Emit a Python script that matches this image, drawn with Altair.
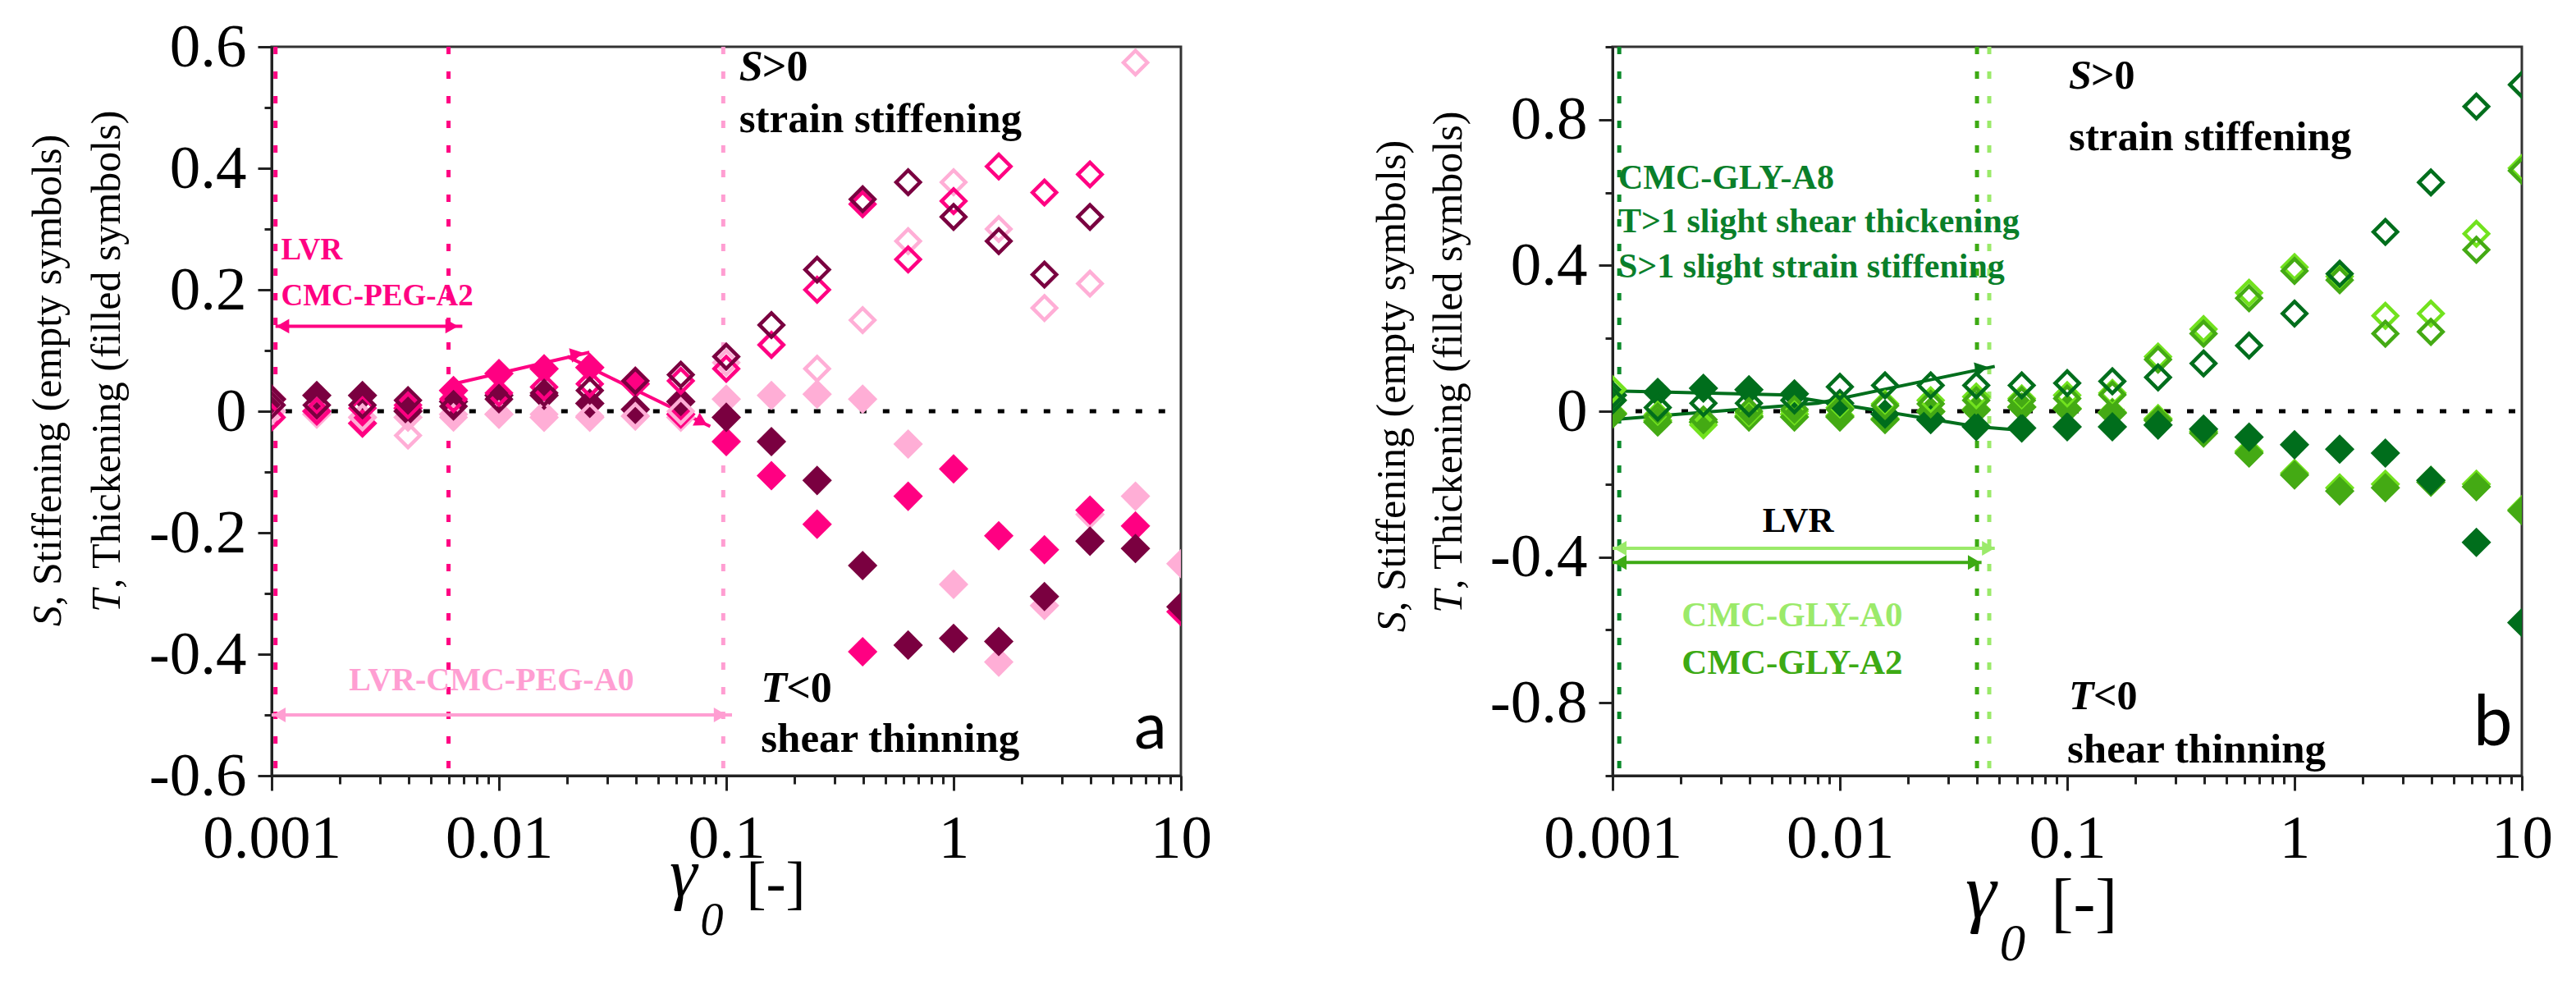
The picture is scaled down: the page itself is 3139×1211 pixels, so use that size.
import altair as alt
import pandas as pd

SERIF = "Liberation Serif"
SANS = "Lato"

# strain amplitude grid, same in both panels
gamma0 = [0.001, 0.00158, 0.00251, 0.00398, 0.00631, 0.01, 0.0158, 0.0251, 0.0398,
          0.0631, 0.1, 0.158, 0.251, 0.398, 0.631, 1.0, 1.58, 2.51, 3.98, 6.31, 10.0]

# panel a: CMC-PEG, S = stiffening (empty), T = thickening (filled)
peg_a0_S = [0.01, 0.0, -0.01, -0.04, -0.01, -0.005, -0.005, -0.008, -0.008, 0.0, 0.08,
            0.11, 0.07, 0.15, 0.28, 0.377, 0.30, 0.17, 0.21, 0.574, None]
peg_a2_S = [-0.01, 0.0, 0.005, 0.01, 0.02, 0.03, 0.04, 0.045, 0.05, 0.05, 0.07,
            0.109, 0.2, 0.341, 0.25, 0.346, 0.403, 0.36, 0.39, None, None]
peg_a8_S = [0.01, 0.01, 0.01, 0.018, 0.008, 0.02, 0.03, 0.034, 0.05, 0.06, 0.09,
            0.142, 0.233, 0.349, 0.377, 0.32, 0.28, 0.225, 0.32, None, None]
peg_a0_T = [0.0, -0.005, -0.01, -0.01, -0.005, -0.005, -0.01, -0.01, -0.008, -0.01, 0.02,
            0.026, 0.028, 0.02, -0.054, -0.285, -0.413, -0.32, -0.17, -0.14, -0.251]
peg_a2_T = [0.02, 0.0, -0.02, 0.005, 0.034, 0.062, 0.07, 0.072, 0.045, -0.005, -0.05,
            -0.106, -0.186, -0.396, -0.14, -0.095, -0.205, -0.228, -0.163, -0.189, -0.33]
peg_a8_T = [0.02, 0.026, 0.026, 0.0, 0.016, 0.026, 0.026, 0.013, 0.003, 0.016, -0.01,
            -0.05, -0.114, -0.254, -0.385, -0.374, -0.379, -0.305, -0.214, -0.226, -0.322]

# panel b: CMC-GLY
gly_a0_S = [0.06, -0.01, -0.038, -0.005, 0.0, 0.01, 0.02, 0.03, 0.04, 0.035, 0.044,
            0.05, 0.15, 0.225, 0.325, 0.395, 0.37, 0.262, 0.268, 0.487, 0.667]
gly_a2_S = [0.03, -0.015, -0.023, 0.0, 0.005, 0.005, 0.015, 0.02, 0.03, 0.03, 0.035,
            0.045, 0.142, 0.213, 0.31, 0.385, 0.36, 0.213, 0.218, 0.443, 0.66]
gly_a8_S = [0.03, 0.01, 0.022, 0.022, 0.03, 0.067, 0.071, 0.071, 0.071, 0.071, 0.077,
            0.082, 0.093, 0.131, 0.18, 0.268, 0.377, 0.492, 0.628, 0.836, 0.896]
gly_a0_T = [-0.005, -0.025, -0.03, -0.012, -0.008, -0.012, -0.02, 0.0, 0.005, 0.012, 0.008,
            -0.003, -0.02, -0.055, -0.11, -0.17, -0.21, -0.2, -0.19, -0.2, -0.27]
gly_a2_T = [-0.008, -0.03, -0.03, -0.016, -0.016, -0.016, -0.023, -0.001, 0.003, 0.011, 0.006,
            -0.005, -0.025, -0.06, -0.115, -0.175, -0.219, -0.21, -0.195, -0.207, -0.273]
gly_a8_T = [0.044, 0.052, 0.063, 0.059, 0.048, 0.022, -0.008, -0.023, -0.042, -0.046, -0.043,
            -0.043, -0.038, -0.049, -0.071, -0.092, -0.104, -0.115, -0.19, -0.36, -0.58]

PINKS = ["#FFAED6", "#FF0082", "#7A0040"]
GREENS = ["#72E21E", "#44AA14", "#006E1C"]

# tick positions
x_ticks = [m * 10.0 ** e for e in range(-3, 1) for m in range(1, 10)] + [10.0]
ya_ticks = [-0.6, -0.5, -0.4, -0.3, -0.2, -0.1, 0.0, 0.1, 0.2, 0.3, 0.4, 0.5, 0.6]
yb_ticks = [-1.0, -0.8, -0.6, -0.4, -0.2, 0.0, 0.2, 0.4, 0.6, 0.8, 1.0]

MAJ_X = "abs(log(datum.value)/LN10 - round(log(datum.value)/LN10)) < 0.01"
MAJ_YA = "abs(round(datum.value*10)) % 2 == 0"
MAJ_YB = "abs(round(datum.value*5)) % 2 == 0"
SIGNED = "(datum.value < 0 ? '-' + format(-datum.value, '~g') : format(datum.value, '~g'))"

W, H = 1108, 888


def x_axis():
    return alt.Axis(values=x_ticks, labelExpr=f"{MAJ_X} ? format(datum.value, '~g') : ''",
                    tickSize={"condition": {"test": MAJ_X, "value": 18}, "value": 10},
                    labelPadding=22, labelFlush=False, title=None)


def y_axis(ticks, test):
    return alt.Axis(values=ticks, labelExpr=f"{test} ? {SIGNED} : ''",
                    tickSize={"condition": {"test": test, "value": 17}, "value": 9},
                    labelPadding=14, labelFlush=False, title=None)


def points(series, colors, filled, X, Y):
    rows = []
    for col, vals in zip(colors, series):
        for x, v in zip(gamma0, vals):
            if v is not None:
                rows.append({"x": x, "v": v, "c": col})
    if filled:
        m = alt.Chart(pd.DataFrame(rows)).mark_point(
            shape="diamond", filled=True, size=1300, opacity=1, clip=True)
    else:
        m = alt.Chart(pd.DataFrame(rows)).mark_point(
            shape="diamond", filled=False, size=850, strokeWidth=4.5, opacity=1, clip=True)
    return m.encode(x=X, y=Y, color=alt.Color("c:N", scale=None))


def vlines(xs, colors, X):
    d = pd.DataFrame({"x": xs, "c": colors})
    return alt.Chart(d).mark_rule(strokeDash=[9, 21], strokeWidth=5).encode(
        x=X, color=alt.Color("c:N", scale=None))


def zero_line(x0, x1, X, Y):
    d = pd.DataFrame({"x": [x0], "x2": [x1], "v": [0.0]})
    return alt.Chart(d).mark_rule(strokeDash=[8, 20], strokeWidth=5, color="black").encode(
        x=X, x2="x2:Q", y=Y)


def polyline(xs, ys, color, X, Y):
    d = pd.DataFrame({"x": xs, "v": ys})
    return alt.Chart(d).mark_line(strokeWidth=4, color=color).encode(x=X, y=Y)


def heads(xs, ys, angles, color, X, Y):
    d = pd.DataFrame({"x": xs, "v": ys, "a": angles})
    return alt.Chart(d).mark_point(shape="triangle-right", filled=True, size=320, opacity=1,
                                   color=color).encode(
        x=X, y=Y, angle=alt.Angle("a:Q", scale=None))


def txt(X, Y, x, y, s, **kw):
    style = dict(font=SERIF, align="left", baseline="alphabetic", color="black")
    style.update(kw)
    d = pd.DataFrame({"x": [x], "v": [y], "t": [s]})
    return alt.Chart(d).mark_text(**style).encode(x=X, y=Y, text="t:N")


def ptxt(px, py, s, **kw):
    style = dict(font=SERIF, align="left", baseline="alphabetic", color="black")
    style.update(kw)
    d = pd.DataFrame({"t": [s]})
    return alt.Chart(d).mark_text(**style).encode(x=alt.value(px), y=alt.value(py), text="t:N")


def axis_titles(l1x, l1y, l2x, l2y, gx, gy, gs):
    # y title (two rotated lines, italic S and T) and x title gamma_0 [-]
    return [
        ptxt(l1x, l1y, "S", fontSize=50, angle=270, baseline="middle", fontStyle="italic"),
        ptxt(l1x, l1y - 25, ", Stiffening (empty symbols)", fontSize=50, angle=270, baseline="middle"),
        ptxt(l2x, l2y, "T", fontSize=50, angle=270, baseline="middle", fontStyle="italic"),
        ptxt(l2x, l2y - 29, ", Thickening (filled symbols)", fontSize=50, angle=270, baseline="middle"),
        ptxt(gx, gy, "γ", fontSize=gs, fontStyle="italic"),
        ptxt(gx + 0.44 * gs, gy + 0.55 * gs, "0", fontSize=0.66 * gs, fontStyle="italic"),
        ptxt(gx + 1.1 * gs, gy + 0.08 * gs, "[-]", fontSize=0.85 * gs),
    ]


# ---------------- panel a ----------------
sx = alt.Scale(type="log", domain=[0.001, 10], nice=False)
Xa = alt.X("x:Q", scale=sx, axis=x_axis())
Ya = alt.Y("v:Q", scale=alt.Scale(domain=[-0.6, 0.6], nice=False, zero=False),
           axis=y_axis(ya_ticks, MAJ_YA))

HP, LP, MR = PINKS[1], "#FF9ED2", PINKS[2]
layers_a = [
    vlines([0.00104, 0.006, 0.097], [HP, HP, LP], Xa),
    zero_line(0.00115, 8.8, Xa, Ya),
    polyline([0.00104, 0.0069], [0.14, 0.14], HP, Xa, Ya),
    polyline([0.001, 0.106], [-0.5, -0.5], LP, Xa, Ya),
    polyline([0.0063, 0.025], [0.045, 0.097], HP, Xa, Ya),
    polyline([0.02, 0.085], [0.09, -0.025], HP, Xa, Ya),
    heads([0.00112, 0.0062], [0.14, 0.14], [180, 0], HP, Xa, Ya),
    heads([0.00108, 0.094], [-0.5, -0.5], [180, 0], LP, Xa, Ya),
    heads([0.022, 0.078], [0.094, -0.018], [348, 28], HP, Xa, Ya),
    points([peg_a0_T, peg_a2_T, peg_a8_T], PINKS, True, Xa, Ya),
    points([peg_a0_S, peg_a2_S, peg_a8_S], PINKS, False, Xa, Ya),
    txt(Xa, Ya, 0.0011, 0.25, "LVR", fontSize=37, fontWeight="bold", color=HP),
    txt(Xa, Ya, 0.0011, 0.175, "CMC-PEG-A2", fontSize=37, fontWeight="bold", color=HP),
    txt(Xa, Ya, 0.00927, -0.459, "LVR-CMC-PEG-A0", fontSize=40, fontWeight="bold",
        color=LP, align="center"),
    txt(Xa, Ya, 0.114, 0.545, "S", fontSize=52, fontStyle="italic", fontWeight="bold"),
    txt(Xa, Ya, 0.114, 0.545, ">0", fontSize=52, fontWeight="bold", dx=28),
    txt(Xa, Ya, 0.114, 0.459, "strain  stiffening", fontSize=51, fontWeight="bold"),
    txt(Xa, Ya, 0.142, -0.479, "T", fontSize=52, fontStyle="italic", fontWeight="bold"),
    txt(Xa, Ya, 0.142, -0.479, "<0", fontSize=52, fontWeight="bold", dx=31),
    txt(Xa, Ya, 0.142, -0.561, "shear thinning", fontSize=51, fontWeight="bold"),
    txt(Xa, Ya, 6.22, -0.555, "a", fontSize=80, font=SANS),
] + axis_titles(-272, 706, -200, 689, 485, 1035, 85)

panel_a = alt.layer(*layers_a).properties(width=W, height=H)

# ---------------- panel b ----------------
Xb = alt.X("x:Q", scale=sx, axis=x_axis())
Yb = alt.Y("v:Q", scale=alt.Scale(domain=[-1.0, 1.0], nice=False, zero=False),
           axis=y_axis(yb_ticks, MAJ_YB))

DG, MG, LG, TG = "#0A8A2A", "#3DAA14", "#9BEA6A", "#0A7F2A"
layers_b = [
    vlines([0.00107, 0.0401, 0.0454], [DG, MG, LG], Xb),
    zero_line(0.001, 10.0, Xb, Yb),
    polyline([0.001, 0.048], [-0.376, -0.376], LG, Xb, Yb),
    polyline([0.001, 0.042], [-0.415, -0.415], MG, Xb, Yb),
    polyline([0.001, 0.0055, 0.04, 0.057], [0.056, 0.045, -0.042, -0.05], "#006E1C", Xb, Yb),
    polyline([0.001, 0.008, 0.048], [-0.023, 0.022, 0.123], "#006E1C", Xb, Yb),
    heads([0.00108, 0.045], [-0.376, -0.376], [180, 0], LG, Xb, Yb),
    heads([0.00108, 0.039], [-0.415, -0.415], [180, 0], MG, Xb, Yb),
    heads([0.042, 0.04], [0.118, -0.042], [348, 10], "#006E1C", Xb, Yb),
    points([gly_a0_T, gly_a2_T, gly_a8_T], GREENS, True, Xb, Yb),
    points([gly_a0_S, gly_a2_S, gly_a8_S], GREENS, False, Xb, Yb),
    txt(Xb, Yb, 0.00106, 0.611, "CMC-GLY-A8", fontSize=42, fontWeight="bold", color=TG),
    txt(Xb, Yb, 0.00106, 0.49, "T>1 slight shear thickening", fontSize=42, fontWeight="bold", color=TG),
    txt(Xb, Yb, 0.00106, 0.368, "S>1 slight strain stiffening", fontSize=42, fontWeight="bold", color=TG),
    txt(Xb, Yb, 0.00655, -0.331, "LVR", fontSize=43, fontWeight="bold", align="center"),
    txt(Xb, Yb, 0.00617, -0.589, "CMC-GLY-A0", fontSize=43, fontWeight="bold", color=LG, align="center"),
    txt(Xb, Yb, 0.00617, -0.72, "CMC-GLY-A2", fontSize=43, fontWeight="bold", color=MG, align="center"),
    txt(Xb, Yb, 0.1017, 0.886, "S", fontSize=50, fontStyle="italic", fontWeight="bold"),
    txt(Xb, Yb, 0.1017, 0.886, ">0", fontSize=50, fontWeight="bold", dx=27),
    txt(Xb, Yb, 0.1017, 0.716, "strain  stiffening", fontSize=51, fontWeight="bold"),
    txt(Xb, Yb, 0.1017, -0.818, "T", fontSize=50, fontStyle="italic", fontWeight="bold"),
    txt(Xb, Yb, 0.1017, -0.818, "<0", fontSize=50, fontWeight="bold", dx=30),
    txt(Xb, Yb, 0.1, -0.963, "shear thinning", fontSize=51, fontWeight="bold"),
    txt(Xb, Yb, 6.12, -0.916, "b", fontSize=85, font=SANS),
] + axis_titles(-268, 713, -199, 690, 430, 1061, 95)

panel_b = alt.layer(*layers_b).properties(width=W, height=H)

chart = alt.hconcat(panel_a, panel_b, spacing=192).properties(
    padding={"left": 24, "top": 10, "right": 5, "bottom": 5},
    background="white",
).configure_view(
    stroke="#333333", strokeWidth=3
).configure_axis(
    domainColor="#222222", domainWidth=3, tickColor="#222222", tickWidth=3,
    labelFont=SERIF, labelFontSize=75, labelColor="black", grid=False,
)

chart.save("out.html", embed_options={"renderer": "svg", "actions": False})
